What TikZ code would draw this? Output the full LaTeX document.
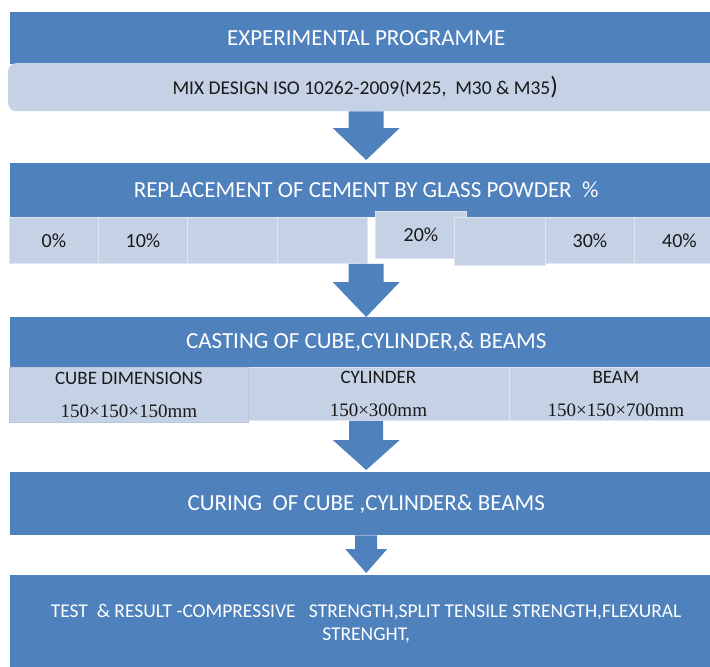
\documentclass[tikz,border=0pt]{standalone}
\usepackage{fontspec}
\setmainfont{Carlito}
\newfontfamily\dimfont{Liberation Serif}
\usetikzlibrary{calc}

\definecolor{stageblue}{RGB}{79,129,189}
\definecolor{stagelight}{RGB}{197,209,228}

% block arrow: start node, target node, gap above target, shaft half width,
% head half width, head length
\newcommand{\stagearrow}[6]{%
  \fill[blockarrow] let \p1=(#1), \p2=(#2) in
    (\x2-#4pt,\y1) -- (\x2+#4pt,\y1) -- (\x2+#4pt,\y2+#3pt+#6pt)
    -- (\x2+#5pt,\y2+#3pt+#6pt) -- (\x2,\y2+#3pt)
    -- (\x2-#5pt,\y2+#3pt+#6pt) -- (\x2-#4pt,\y2+#3pt+#6pt) -- cycle;}

\begin{document}
\begin{tikzpicture}[x=1pt,y=-1pt,
  stage/.style={fill=stageblue, text=white, inner sep=0pt, anchor=north west,
    minimum width=712pt, font=\fontsize{23}{27}\selectfont},
  subbar/.style={fill=stagelight, text=black!90, inner sep=0pt, anchor=north west,
    rounded corners=8pt, font=\fontsize{19.5}{24}\selectfont},
  cell/.style={fill=stagelight, draw=white!45!stagelight, line width=0.8pt,
    text=black!90, inner sep=0pt, anchor=north west, font=\fontsize{20}{24}\selectfont},
  dimcell/.style={cell, align=center, font=\fontsize{19}{33}\selectfont},
  blockarrow/.style={fill=stageblue},
]
\useasboundingbox (0,0) rectangle (710,667);

% ---- stage boxes ----
\node[stage, minimum height=52pt] (prog) at (10,12) {EXPERIMENTAL PROGRAMME};
\node[stage, minimum height=54pt] (repl) at (10,163) {REPLACEMENT OF CEMENT BY GLASS POWDER\ \ \%};
\node[stage, minimum height=50pt] (cast) at (10,317) {CASTING OF CUBE,CYLINDER,\& BEAMS};
\node[stage, minimum height=63pt] (cure) at (10,472) {CURING\ \ OF CUBE ,CYLINDER\& BEAMS};
\node[stage, minimum height=97pt, align=center, font=\fontsize{19.5}{23}\selectfont] (test) at (10,575)
  {TEST\ \ \& RESULT -COMPRESSIVE\ \ \ STRENGTH,SPLIT TENSILE STRENGTH,FLEXURAL\\STRENGHT,};

% ---- mix design bar ----
\node[subbar, minimum width=714pt, minimum height=48pt] (mix) at (8,63)
  {MIX DESIGN ISO 10262-2009(M25,\ \ M30 \& M35{\fontsize{25}{25}\selectfont)}};

% ---- replacement percentages ----
\node[cell, minimum width=89pt, minimum height=46pt] (p0) at (9,217) {0\%};
\node[cell, minimum width=89pt, minimum height=46pt] (p10) at (98,217) {10\%};
\node[cell, minimum width=90pt, minimum height=46pt] (pe1) at (187,217) {};
\node[cell, minimum width=90pt, minimum height=46pt] (pe2) at (277,217) {};
\node[cell, minimum width=91pt, minimum height=47pt] (p20) at (375,211) {20\%};
\node[cell, minimum width=91pt, minimum height=48pt] (pe3) at (454,217) {};
\node[cell, minimum width=89pt, minimum height=46pt] (p30) at (545,217) {30\%};
\node[cell, minimum width=90pt, minimum height=46pt] (p40) at (634,217) {40\%};

% ---- specimen sizes ----
\node[dimcell, minimum width=262pt, minimum height=53pt] (cyl) at (247,367)
  {CYLINDER\\{\dimfont 150×300mm}};
\node[dimcell, minimum width=213pt, minimum height=53pt] (beam) at (509,367)
  {BEAM\\{\dimfont 150×150×700mm}};
\node[dimcell, draw=black!5!stagelight, minimum width=239pt, minimum height=55pt] (cube) at (9,367)
  {CUBE DIMENSIONS\\{\dimfont 150×150×150mm}};

% ---- flow arrows ----
\stagearrow{mix.south}{repl.north}{3}{17.5}{33.5}{32}
\stagearrow{p0.south}{cast.north}{0}{17.5}{33.5}{35}
\stagearrow{cyl.south}{cure.north}{2}{17}{33.5}{30}
\stagearrow{cure.south}{test.north}{2}{11}{21}{24}
\end{tikzpicture}
\end{document}
